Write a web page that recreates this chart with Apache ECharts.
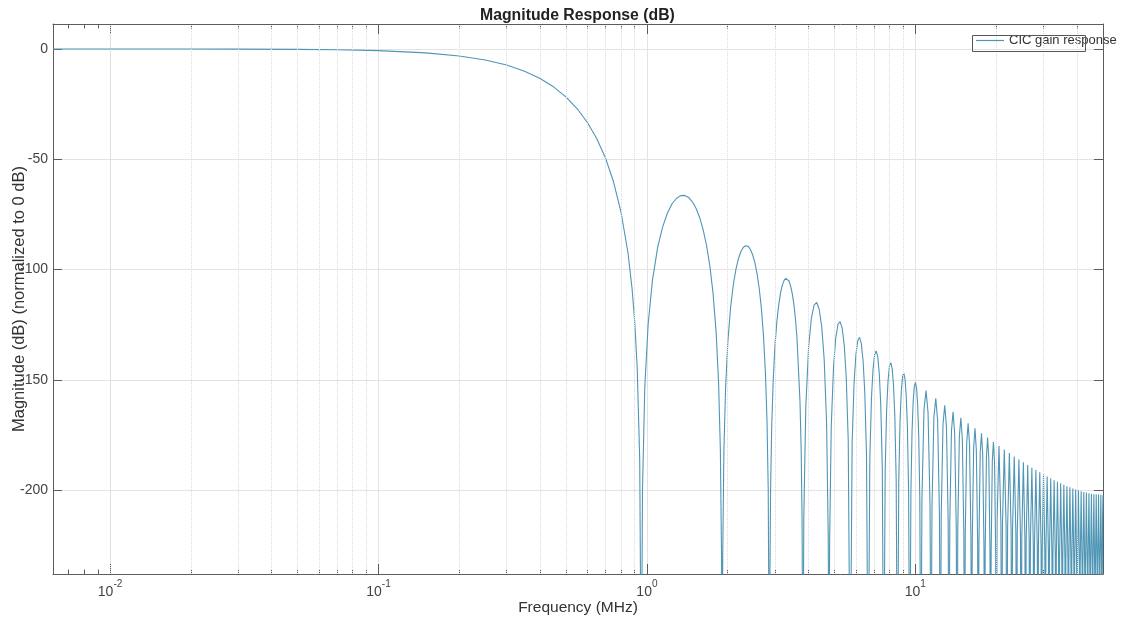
<!DOCTYPE html>
<html>
<head>
<meta charset="utf-8">
<title>CIC gain response</title>
<script src="https://cdn.jsdelivr.net/npm/echarts@6/dist/echarts.min.js"></script>
<style>
  html, body { margin: 0; padding: 0; background: #fff; }
  #chart { width: 1123px; height: 619px; }
</style>
</head>
<body>
<div id="chart"></div>
<script>
// values: [frequency MHz, magnitude dB]
// nulls go below the bottom of the plot, they are given as -300
const mainLobe = [
  [0.00613, 0], [0.01, -0.01], [0.02, -0.03], [0.03, -0.07], [0.05, -0.2], [0.07, -0.39],
  [0.1, -0.78], [0.15, -1.78], [0.2, -3.19], [0.25, -5.03], [0.3, -7.32], [0.35, -10.11],
  [0.4, -13.4], [0.45, -17.29], [0.5, -21.83], [0.55, -27.13], [0.6, -33.33], [0.65, -40.62],
  [0.7, -49.3], [0.75, -60.0], [0.8, -73.7], [0.85, -92.4], [0.88, -108.5], [0.9, -123.2],
  [0.92, -144.6], [0.94, -186], [0.953, -300]
];

const lobes1to3 = [
  [0.9625, -200.4], [0.9816, -153.6], [1.0102, -125.0], [1.0483, -104.9], [1.096, -90.1],
  [1.1436, -80.8], [1.1913, -74.5], [1.2389, -70.3], [1.2866, -67.8], [1.3342, -66.5],
  [1.382, -66.4], [1.4295, -67.3], [1.4772, -69.3], [1.5248, -72.3], [1.5725, -76.5],
  [1.6201, -82.0], [1.6678, -89.1], [1.7154, -98.3], [1.763, -110.7], [1.8107, -128.6],
  [1.8488, -151.2], [1.8774, -181.8], [1.8965, -229.9], [1.906, -300],
  [1.9155, -230.3], [1.9346, -183.1], [1.9632, -153.8], [2.0013, -132.9], [2.049, -117.3],
  [2.0966, -107.1], [2.1443, -100.0], [2.1919, -95.1], [2.2396, -91.8], [2.2872, -89.9],
  [2.3349, -89.2], [2.3825, -89.5], [2.4302, -90.9], [2.4778, -93.4], [2.5255, -97.0],
  [2.5731, -102.1], [2.6208, -108.7], [2.6684, -117.5], [2.716, -129.5], [2.7637, -147.0],
  [2.8018, -169.2], [2.8304, -199.6], [2.859, -300],
  [2.8685, -247.9], [2.8876, -200.5], [2.9162, -171.0], [2.9543, -149.9], [3.002, -133.8],
  [3.0496, -123.3], [3.0973, -116.0], [3.1449, -110.7], [3.1926, -107.2], [3.2402, -105.0],
  [3.2879, -104.0], [3.3355, -104.1], [3.3832, -105.2], [3.4308, -107.5], [3.4785, -110.9],
  [3.5261, -115.7], [3.5738, -122.2], [3.6214, -130.7], [3.7167, -159.7], [3.7548, -182.0],
  [3.7834, -212.2], [3.812, -300]
];

const lobes4to10 = [
  [3.8406, -212.7], [3.9073, -161.9], [4.0026, -135.0], [4.0979, -122.1], [4.1932, -116.1],
  [4.2885, -114.9], [4.3838, -118.1], [4.4791, -126.0], [4.5744, -140.8], [4.6697, -169.6],
  [4.7364, -221.8], [4.765, -300],
  [4.7936, -222.3], [4.8603, -171.3], [4.9556, -144.2], [5.0509, -131.1], [5.1462, -124.9],
  [5.2415, -123.6], [5.3368, -126.5], [5.4321, -134.3], [5.5274, -148.9], [5.6227, -177.6],
  [5.718, -300],
  [5.8133, -179.0], [5.9086, -151.8], [6.0039, -138.6], [6.0992, -132.3], [6.1945, -130.7],
  [6.2898, -133.6], [6.3851, -141.2], [6.4804, -155.8], [6.5757, -184.3], [6.671, -300],
  [6.7663, -185.5], [6.8616, -158.2], [6.9569, -144.9], [7.0522, -138.5], [7.1475, -136.9],
  [7.2428, -139.6], [7.3381, -147.2], [7.4334, -161.6], [7.5287, -190.1], [7.624, -300],
  [7.7193, -191.1], [7.8146, -163.8], [7.9099, -150.4], [8.0052, -143.9], [8.1005, -142.2],
  [8.1958, -144.9], [8.2911, -152.4], [8.3864, -166.8], [8.4817, -195.2], [8.577, -300],
  [8.6723, -196.1], [8.7676, -168.7], [8.8629, -155.2], [8.9582, -148.7], [9.0535, -146.9],
  [9.1488, -149.6], [9.2441, -157.0], [9.3394, -171.3], [9.4347, -199.7], [9.53, -300],
  [9.6253, -200.5], [9.7206, -173.0], [9.8159, -159.5], [9.9112, -152.9], [10.0065, -151.1],
  [10.1018, -153.7], [10.1971, -161.1], [10.2924, -175.4], [10.3877, -203.7], [10.483, -300]
];

const lobes11to20 = [
  [10.5783, -204.4], [10.7689, -163.3], [10.9595, -154.9], [11.1501, -164.9], [11.3407, -207.4], [11.436, -300],
  [11.5313, -208.0], [11.7219, -166.9], [11.9125, -158.4], [12.1031, -168.3], [12.2937, -210.8], [12.389, -300],
  [12.4843, -211.2], [12.6749, -170.1], [12.8655, -161.5], [13.0561, -171.3], [13.2467, -213.8], [13.342, -300],
  [13.4373, -214.3], [13.6279, -173.1], [13.8185, -164.5], [14.0091, -174.3], [14.1997, -216.7], [14.295, -300],
  [14.3903, -217.1], [14.5809, -175.8], [14.7715, -167.2], [14.9621, -177.0], [15.1527, -219.3], [15.248, -300],
  [15.3433, -219.6], [15.5339, -178.4], [15.7245, -169.7], [15.9151, -179.4], [16.1057, -221.7], [16.201, -300],
  [16.2963, -222.0], [16.4869, -180.7], [16.6775, -172.0], [16.8681, -181.7], [17.0587, -224.0], [17.154, -300],
  [17.2493, -224.3], [17.4399, -182.9], [17.6305, -174.2], [17.8211, -183.9], [18.0117, -226.1], [18.107, -300],
  [18.2023, -226.3], [18.3929, -185.0], [18.5835, -176.2], [18.7741, -185.8], [18.9647, -228.1], [19.06, -300],
  [19.1553, -228.3], [19.3459, -186.9], [19.5365, -178.1], [19.7271, -187.7], [19.9177, -229.9], [20.013, -300]
];

const lobes21to52 = [
  [20.156, -213.6], [20.490, -179.9], [20.823, -214.8], [20.966, -300],
  [21.109, -215.3], [21.443, -181.6], [21.776, -216.5], [21.919, -300],
  [22.062, -216.9], [22.396, -183.2], [22.729, -218.1], [22.872, -300],
  [23.015, -218.4], [23.349, -184.7], [23.682, -219.6], [23.825, -300],
  [23.968, -219.8], [24.302, -186.1], [24.635, -221.0], [24.778, -300],
  [24.921, -221.1], [25.255, -187.4], [25.588, -222.3], [25.731, -300],
  [25.874, -222.3], [26.208, -188.6], [26.541, -223.5], [26.684, -300],
  [26.827, -223.5], [27.161, -189.8], [27.494, -224.7], [27.637, -300],
  [27.780, -224.6], [28.114, -190.9], [28.447, -225.8], [28.59, -300],
  [28.733, -225.6], [29.067, -191.9], [29.400, -226.8], [29.543, -300],
  [29.686, -226.8], [30.020, -192.9], [30.353, -227.6], [30.496, -300],
  [30.639, -227.7], [30.973, -193.8], [31.306, -228.5], [31.449, -300],
  [31.592, -228.6], [31.926, -194.7], [32.259, -229.4], [32.402, -300],
  [32.545, -229.4], [32.879, -195.5], [33.212, -230.2], [33.355, -300],
  [33.498, -230.1], [33.832, -196.2], [34.165, -230.9], [34.308, -300],
  [34.451, -230.8], [34.785, -196.9], [35.118, -231.6], [35.261, -300],
  [35.404, -231.5], [35.738, -197.6], [36.071, -232.3], [36.214, -300],
  [36.357, -232.1], [36.691, -198.2], [37.024, -232.9], [37.167, -300],
  [37.310, -232.6], [37.644, -198.7], [37.977, -233.4], [38.12, -300],
  [38.263, -233.1], [38.597, -199.2], [38.930, -233.9], [39.073, -300],
  [39.216, -233.7], [39.550, -199.7], [39.883, -234.3], [40.026, -300],
  [40.169, -234.1], [40.503, -200.1], [40.836, -234.7], [40.979, -300],
  [41.122, -234.5], [41.456, -200.5], [41.789, -235.1], [41.932, -300],
  [42.075, -234.8], [42.409, -200.8], [42.742, -235.4], [42.885, -300],
  [43.028, -235.1], [43.362, -201.1], [43.695, -235.7], [43.838, -300],
  [43.981, -235.4], [44.315, -201.4], [44.648, -236.0], [44.791, -300],
  [44.934, -235.6], [45.268, -201.6], [45.601, -236.2], [45.744, -300],
  [45.887, -235.8], [46.221, -201.8], [46.554, -236.4], [46.697, -300],
  [46.840, -235.9], [47.174, -201.9], [47.507, -236.5], [47.65, -300],
  [47.793, -236.0], [48.127, -202.0], [48.460, -236.6], [48.603, -300],
  [48.746, -236.1], [49.080, -202.1], [49.413, -236.7], [49.556, -300],
  [49.699, -236.2], [49.842, -211.3], [50, -202.3]
];

// axis ticks
const xMin = 0.00613;
const xMax = 50;
const yMin = -238;
const yMax = 11.3;
const yTicks = [-200, -150, -100, -50, 0];
const xMinorTicks = [
  0.007, 0.008, 0.009,
  0.02, 0.03, 0.04, 0.05, 0.06, 0.07, 0.08, 0.09,
  0.2, 0.3, 0.4, 0.5, 0.6, 0.7, 0.8, 0.9,
  2, 3, 4, 5, 6, 7, 8, 9,
  20, 30, 40
];

const seriesName = 'CIC gain response';
const lineColor = '#4f95b4';
const axisColor = '#5c5c5c';
const font = '"Liberation Sans", Arial, Helvetica, sans-serif';

const response = [].concat(mainLobe, lobes1to3, lobes4to10, lobes11to20, lobes21to52);

function powLabel(v) {
  const e = Math.round(Math.log10(v));
  return '{b|10}{e|' + e + '}';
}

function logAxis(position, opts) {
  return Object.assign({
    type: 'log',
    logBase: 10,
    min: xMin,
    max: xMax,
    position: position,
    axisLine: { show: false, onZero: false },
    axisTick: { show: false },
    axisLabel: { show: false },
    splitLine: { show: false }
  }, opts);
}

const chart = echarts.init(document.getElementById('chart'), null, { renderer: 'canvas' });

chart.setOption({
  animation: false,
  textStyle: { fontFamily: font },
  title: {
    text: 'Magnitude Response (dB)',
    left: 480,
    top: 8,
    padding: 0,
    textStyle: { fontSize: 15.8, fontWeight: 'bold', color: '#222', fontFamily: font }
  },
  grid: { left: 53, right: 20, top: 24, bottom: 45, outerBoundsMode: 'none', containLabel: false },
  legend: {
    data: [seriesName],
    icon: 'rect',
    left: 976,
    top: 34,
    itemWidth: 28,
    itemHeight: 1.2,
    padding: 0,
    textStyle: { fontSize: 13, color: '#333', fontFamily: font }
  },
  xAxis: [
    logAxis('bottom', {
      name: 'Frequency (MHz)',
      nameLocation: 'middle',
      nameGap: 26,
      nameMoveOverlap: false,
      nameTextStyle: { fontSize: 15.5, color: '#333', fontFamily: font },
      axisLine: { show: true, onZero: false, lineStyle: { color: axisColor, width: 1 } },
      axisTick: { show: true, inside: true, length: 10, lineStyle: { color: axisColor } },
      axisLabel: {
        show: true,
        showMinLabel: false,
        showMaxLabel: false,
        margin: 5,
        color: '#444',
        formatter: powLabel,
        rich: {
          b: { fontSize: 14, color: '#444', fontFamily: font, verticalAlign: 'bottom', lineHeight: 20 },
          e: { fontSize: 10, color: '#444', fontFamily: font, verticalAlign: 'top', lineHeight: 20 }
        }
      },
      splitLine: { show: true, lineStyle: { color: '#e3e3e3', width: 1 } }
    }),
    logAxis('bottom', {
      axisTick: {
        show: true, inside: true, length: 4.5, customValues: xMinorTicks,
        lineStyle: { color: axisColor }
      }
    }),
    logAxis('top', {
      axisLine: { show: true, onZero: false, lineStyle: { color: axisColor, width: 1 } },
      axisTick: { show: true, inside: true, length: 10, lineStyle: { color: axisColor } }
    }),
    logAxis('top', {
      axisTick: {
        show: true, inside: true, length: 4.5, customValues: xMinorTicks,
        lineStyle: { color: axisColor }
      }
    })
  ],
  yAxis: [
    {
      type: 'value',
      position: 'left',
      min: yMin,
      max: yMax,
      name: 'Magnitude (dB) (normalized to 0 dB)',
      nameLocation: 'middle',
      nameRotate: 90,
      nameGap: 25,
      nameMoveOverlap: false,
      nameTextStyle: { fontSize: 16.5, color: '#333', fontFamily: font },
      axisLine: { show: true, onZero: false, lineStyle: { color: axisColor, width: 1 } },
      axisTick: { show: true, inside: true, length: 9, customValues: yTicks, lineStyle: { color: axisColor } },
      axisLabel: { show: true, margin: 5, fontSize: 14, color: '#444', customValues: yTicks },
      splitLine: { show: true, lineStyle: { color: '#e3e3e3', width: 1 } }
    },
    {
      type: 'value',
      position: 'right',
      min: yMin,
      max: yMax,
      axisLine: { show: true, onZero: false, lineStyle: { color: axisColor, width: 1 } },
      axisTick: { show: true, inside: true, length: 9, customValues: yTicks, lineStyle: { color: axisColor } },
      axisLabel: { show: false },
      splitLine: { show: false }
    }
  ],
  series: [
    {
      name: seriesName,
      type: 'line',
      xAxisIndex: 0,
      yAxisIndex: 0,
      data: response,
      showSymbol: false,
      symbol: 'none',
      clip: true,
      lineStyle: { color: lineColor, width: 1.1 },
      itemStyle: { color: lineColor },
      markLine: {
        silent: true,
        symbol: 'none',
        label: { show: false },
        lineStyle: { type: 'dotted', color: '#dadada', width: 1 },
        data: xMinorTicks.map(v => ({ xAxis: v }))
      }
    }
  ],
  graphic: [
    {
      // legend box, narrower than its text as in the picture
      type: 'rect',
      left: 970,
      top: 33,
      shape: { width: 113, height: 16 },
      style: { fill: 'none', stroke: '#555', lineWidth: 1 },
      z: 100
    }
  ]
});
</script>
</body>
</html>
